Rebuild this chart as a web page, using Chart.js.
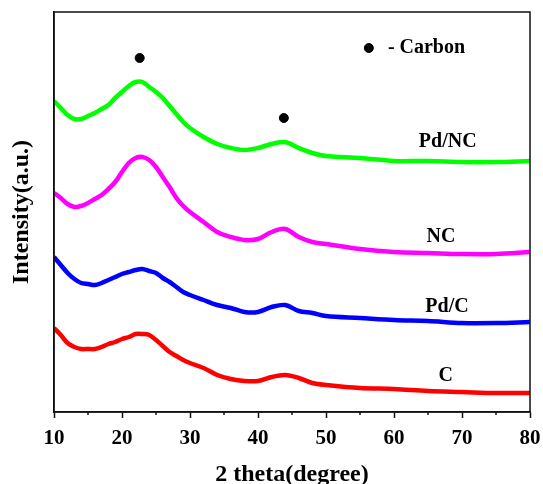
<!DOCTYPE html>
<html>
<head>
<meta charset="utf-8">
<title>XRD patterns</title>
<script src="https://cdn.jsdelivr.net/npm/chart.js@4"></script>
<style>
  html, body { margin: 0; padding: 0; background: #fff; }
  #wrap { width: 543px; height: 484px; }
</style>
</head>
<body>
<div id="wrap"><canvas id="xrdChart" width="543" height="484"></canvas></div>
<script>
// 2 theta positions (degree)
const twoTheta = [10, 11, 12, 13, 14, 15, 16, 17, 18, 19, 20, 21, 22, 23, 24, 25, 26, 27, 28, 29, 30,
  32, 34, 36, 38, 40, 42, 44, 46, 48, 50, 55, 60, 65, 70, 75, 80];

// intensity (offset stacked, a.u.)
const pdncValues = [311, 304, 297, 293, 293, 296, 299, 303, 307, 314, 320, 326, 330, 330, 325, 320, 314, 306, 298, 290, 284,
  275, 268, 264, 262, 264, 268, 270, 264, 259, 256, 254, 251, 251, 250, 250, 251];
const ncValues = [219, 214, 208, 205, 206, 209, 213, 217, 223, 230, 240, 249, 254, 255, 252, 245, 235, 225, 214, 206, 200,
  190, 180, 175, 172, 173, 180, 183, 175, 170, 168, 163, 160, 159, 158, 158, 160];
const pdcValues = [155, 147, 139, 133, 129, 128, 127, 129, 132, 135, 138, 140, 142, 143, 141, 139, 134, 130, 125, 120, 117,
  112, 107, 104, 100, 100, 105, 107, 101, 99, 96, 94, 92, 91, 89, 89, 90];
const cValues = [84, 77, 69, 65, 63, 63, 63, 65, 68, 70, 73, 75, 78, 78, 77, 72, 66, 60, 56, 52, 49,
  44, 37, 33, 31, 31, 35, 37, 34, 29, 27, 24, 23, 21, 20, 19, 19];

// carbon peak markers and the legend dot
const markerX = [22.6, 43.8, 56.3];
const markerY = [354, 294, 364];

const xTicks = [10, 20, 30, 40, 50, 60, 70, 80];
const minorTicks = [15, 25, 35, 45, 55, 65, 75];

// curve names and legend text, placed in data coordinates
const curveLabels = [
  { text: 'Pd/NC', x: 67.9, y: 270, align: 'center' },
  { text: 'NC', x: 66.9, y: 175, align: 'center' },
  { text: 'Pd/C', x: 67.8, y: 105, align: 'center' },
  { text: 'C', x: 67.6, y: 36, align: 'center' },
  { text: '- Carbon', x: 59.1, y: 364, align: 'left' }
];

const serif = '"Liberation Serif", "Times New Roman", serif';

function toPoints(values) {
  return twoTheta.map((x, i) => ({ x, y: values[i] }));
}

function lineSet(label, values, color) {
  return {
    label,
    data: toPoints(values),
    borderColor: color,
    backgroundColor: color,
    borderWidth: 4.5,
    pointRadius: 0,
    tension: 0.35
  };
}

// frame, minor ticks and text labels
const decorations = {
  id: 'decorations',
  afterDraw(chart) {
    const { ctx, chartArea, scales } = chart;
    ctx.save();
    ctx.strokeStyle = '#111';
    ctx.lineWidth = 1.5;
    ctx.strokeRect(chartArea.left, chartArea.top, chartArea.right - chartArea.left, chartArea.bottom - chartArea.top);

    minorTicks.forEach(v => {
      const px = scales.x.getPixelForValue(v);
      ctx.beginPath();
      ctx.moveTo(px, chartArea.bottom);
      ctx.lineTo(px, chartArea.bottom + 3);
      ctx.stroke();
    });

    ctx.fillStyle = '#000';
    ctx.font = 'bold 20px ' + serif;
    ctx.textBaseline = 'middle';
    curveLabels.forEach(l => {
      ctx.textAlign = l.align;
      ctx.fillText(l.text, scales.x.getPixelForValue(l.x), scales.y.getPixelForValue(l.y));
    });
    ctx.restore();
  }
};

const ctx = document.getElementById('xrdChart').getContext('2d');
new Chart(ctx, {
  type: 'line',
  data: {
    datasets: [
      {
        type: 'scatter',
        label: 'Carbon',
        data: markerX.map((x, i) => ({ x, y: markerY[i] })),
        backgroundColor: '#000',
        borderColor: '#000',
        pointRadius: 4.5,
        showLine: false
      },
      lineSet('Pd/NC', pdncValues, '#00ff00'),
      lineSet('NC', ncValues, '#ff00ff'),
      lineSet('Pd/C', pdcValues, '#0000ff'),
      lineSet('C', cValues, '#ff0000')
    ]
  },
  options: {
    responsive: false,
    animation: false,
    devicePixelRatio: 1,
    layout: { padding: { top: 12, right: 13, left: 0, bottom: 0 } },
    plugins: {
      legend: { display: false },
      tooltip: { enabled: false }
    },
    scales: {
      x: {
        type: 'linear',
        min: 10,
        max: 80,
        afterFit: scale => {
          scale.height = 72;
          scale.paddingLeft = 0;
          scale.paddingRight = 0;
        },
        afterBuildTicks: scale => { scale.ticks = xTicks.map(v => ({ value: v })); },
        grid: {
          drawOnChartArea: false,
          drawTicks: true,
          tickLength: 6,
          tickWidth: 1.5,
          tickColor: '#111'
        },
        border: { display: true, color: '#111', width: 1.5 },
        ticks: {
          color: '#000',
          padding: 8,
          maxRotation: 0,
          font: { family: serif, size: 21, weight: 'bold' }
        },
        title: {
          display: true,
          text: '2 theta(degree)',
          color: '#000',
          padding: { top: 0, bottom: -3 },
          font: { family: serif, size: 24, weight: 'bold', lineHeight: 1 }
        }
      },
      y: {
        min: 0,
        max: 400,
        afterFit: scale => { scale.width = 54; },
        grid: { display: false },
        border: { display: true, color: '#111', width: 1.5 },
        ticks: { display: false },
        title: {
          display: true,
          text: 'Intensity(a.u.)',
          color: '#000',
          padding: { top: 7, bottom: 0 },
          font: { family: serif, size: 24, weight: 'bold', lineHeight: 1.2 }
        }
      }
    }
  },
  plugins: [decorations]
});
</script>
</body>
</html>
